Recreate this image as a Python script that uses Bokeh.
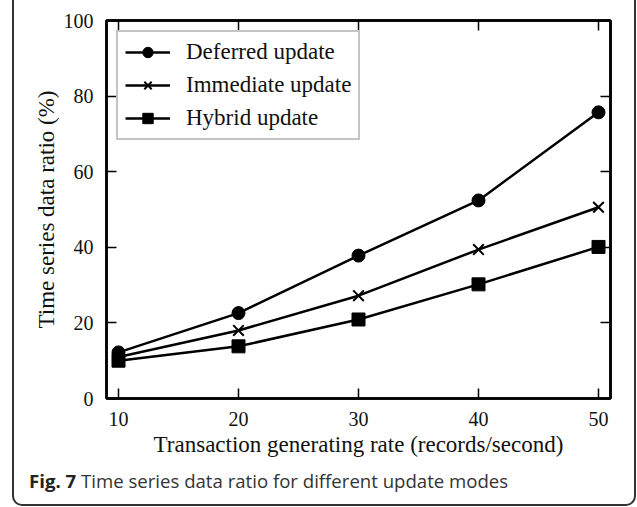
from bokeh.plotting import figure
from bokeh.layouts import column
from bokeh.models import (Range1d, LinearAxis, FixedTicker, Div, Legend, LegendItem)
from bokeh.embed import file_html
from bokeh.resources import INLINE

# ---- data ----
rates = [10, 20, 30, 40, 50]
deferred = [12.2, 22.6, 37.8, 52.4, 75.7]
immediate = [11.0, 18.0, 27.2, 39.4, 50.6]
hybrid = [10.0, 13.8, 20.9, 30.2, 40.1]
series_names = ["Deferred update", "Immediate update", "Hybrid update"]
x_ticks = [10, 20, 30, 40, 50]
y_ticks = [0, 20, 40, 60, 80, 100]
x_label = "Transaction generating rate (records/second)"
y_label = "Time series data ratio (%)"
caption_bold = "Fig. 7"
caption_text = "Time series data ratio for different update modes"

SERIF = "Liberation Serif"

p = figure(width=620, height=469, output_backend="svg", toolbar_location=None,
           x_range=Range1d(9, 51), y_range=Range1d(0, 100),
           min_border_left=92, min_border_right=24, min_border_top=20,
           min_border_bottom=71, x_axis_label=x_label, y_axis_label=y_label)
p.background_fill_color = "white"
p.border_fill_color = "white"
p.grid.visible = False
p.outline_line_color = "black"
p.outline_line_width = 2.5

def style_axis(ax, ticks, show_labels=True):
    ax.ticker = FixedTicker(ticks=ticks)
    ax.axis_line_color = "black"
    ax.axis_line_width = 2.5
    ax.major_tick_in = 10
    ax.major_tick_out = 0
    ax.major_tick_line_width = 1.5
    ax.minor_tick_line_color = None
    if show_labels:
        ax.major_label_text_font = SERIF
        ax.major_label_text_font_size = "20px"
        ax.major_label_text_color = "#111"
        ax.axis_label_text_font = SERIF
        ax.axis_label_text_font_size = "23px"
        ax.axis_label_text_font_style = "normal"
        ax.axis_label_text_color = "#111"
    else:
        ax.major_label_text_color = None
        ax.major_label_text_font_size = "1px"
        ax.major_label_standoff = 0

style_axis(p.xaxis[0], x_ticks)
style_axis(p.yaxis[0], y_ticks)
p.xaxis[0].major_label_standoff = 13
p.xaxis[0].axis_label_standoff = 3
p.yaxis[0].major_label_standoff = 13
p.yaxis[0].axis_label_standoff = 2

top_ax = LinearAxis()
style_axis(top_ax, x_ticks, show_labels=False)
p.add_layout(top_ax, "above")
right_ax = LinearAxis()
style_axis(right_ax, y_ticks, show_labels=False)
p.add_layout(right_ax, "right")

items = []
specs = [(deferred, "circle", 13, series_names[0]),
         (immediate, "x", 15, series_names[1]),
         (hybrid, "square", 13, series_names[2])]
for vals, marker, size, name in specs:
    ln = p.line(rates, vals, line_color="black", line_width=2.5)
    sc = p.scatter(rates, vals, marker=marker, size=size, fill_color="black",
                   line_color="black", line_width=2 if marker == "x" else 1)
    items.append(LegendItem(label=name, renderers=[ln, sc]))

legend = Legend(items=items, location="top_left", margin=10)
legend.label_text_font = SERIF
legend.label_text_font_size = "23px"
legend.label_text_color = "#111"
legend.glyph_width = 45
legend.glyph_height = 26
legend.label_standoff = 16
legend.padding = 7
legend.spacing = 7
legend.border_line_color = "#8a8a8a"
legend.border_line_width = 2
legend.background_fill_color = "white"
legend.background_fill_alpha = 1
p.add_layout(legend)

cap = Div(text=f"<b style='color:#222'>{caption_bold}</b> {caption_text}",
          margin=0,
          styles={"font-family": "'Open Sans'", "font-size": "18.6px",
                  "line-height": "24px", "color": "#333",
                  "padding": "0px 0px 11px 15px", "white-space": "nowrap"})

root = column(p, cap, styles={"margin-left": "12px",
                              "border-left": "2px solid #333",
                              "border-right": "2px solid #333",
                              "border-bottom": "2px solid #333",
                              "border-bottom-left-radius": "10px",
                              "border-bottom-right-radius": "10px"})

open("out.html", "w").write(file_html(root, INLINE))
